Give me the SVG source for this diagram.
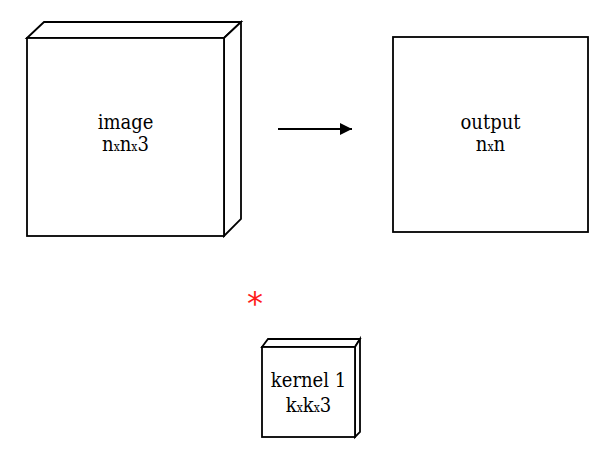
<svg xmlns="http://www.w3.org/2000/svg" width="596" height="463" viewBox="0 0 596 463">
<style>
.box{fill:#ffffff;stroke:#000000;stroke-width:1.8;stroke-linejoin:miter}
.lbl{font-family:"DejaVu Serif Condensed","DejaVu Serif",serif;font-stretch:condensed;font-size:20px;fill:#000000;text-anchor:middle}
.sm{font-size:12px}
.conn{stroke:#000000;stroke-width:1.8;fill:none}
</style>
<defs>
<marker id="ah" viewBox="0 0 10 10" refX="10" refY="5" markerWidth="12" markerHeight="12" markerUnits="userSpaceOnUse" orient="auto">
<path d="M0,0 L10,5 L0,10 z" fill="#000000"/>
</marker>
</defs>
<rect width="596" height="463" fill="#ffffff"/>
<g id="image">
<polygon class="box" points="27,38 44,22 241,22 224,38"/>
<polygon class="box" points="224,38 241,22 241,219 224,236"/>
<rect class="box" x="27" y="38" width="197" height="198"/>
<text class="lbl" x="125.5" y="129">image</text>
<text class="lbl" x="125.5" y="151">n<tspan class="sm">x</tspan>n<tspan class="sm">x</tspan>3</text>
</g>
<g id="output">
<rect class="box" x="393" y="37" width="195" height="195"/>
<text class="lbl" x="490.5" y="129">output</text>
<text class="lbl" x="490.5" y="151">n<tspan class="sm">x</tspan>n</text>
</g>
<g id="kernel">
<polygon class="box" points="262,347 268,339 360,339 355,347"/>
<polygon class="box" points="355,347 360,339 360,432 355,437"/>
<rect class="box" x="262" y="347" width="93" height="90"/>
<text class="lbl" x="308.5" y="387">kernel 1</text>
<text class="lbl" x="308.5" y="412">k<tspan class="sm">x</tspan>k<tspan class="sm">x</tspan>3</text>
</g>
<g id="asterisk">
<text x="255" y="314" style="font-family:'DejaVu Sans',sans-serif;font-size:32px;fill:#ff1a1a;text-anchor:middle">*</text>
</g>
<g id="connectors">
<line class="conn" x1="278" y1="129" x2="352" y2="129" marker-end="url(#ah)"/>
</g>
</svg>
